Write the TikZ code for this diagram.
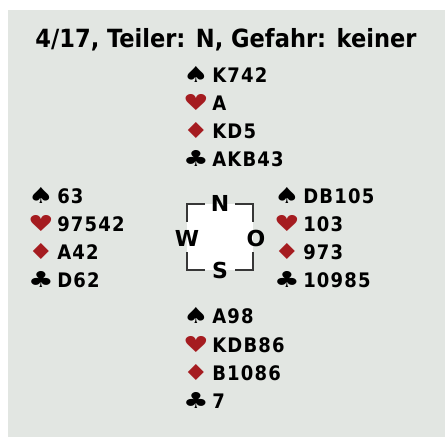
\documentclass[tikz,border=0pt]{standalone}
\usepackage{fontspec}
\usepackage{graphicx}
\setmainfont{DejaVu Sans}
\newfontfamily\titlefamily{DejaVu Sans Condensed Bold}
\newfontfamily\handfamily{DejaVu Sans Condensed Bold}[LetterSpace=6]
\newfontfamily\suitfamily{DejaVu Sans}
\newfontfamily\dirfamily{DejaVu Sans Bold}
\definecolor{bg}{RGB}{226,230,226}
\definecolor{suitred}{RGB}{165,28,32}
\definecolor{framegray}{RGB}{55,55,55}
\newcommand{\suitsym}[1]{\scalebox{1.3}[1.0]{#1}}
\tikzset{
  titletext/.style={font=\titlefamily\fontsize{18.8}{22}\selectfont, anchor=base, inner sep=0pt},
  handtext/.style={font=\handfamily\fontsize{15}{17}\selectfont, anchor=base west, inner sep=0pt},
  suitblack/.style={font=\suitfamily\fontsize{16.5}{18}\selectfont, anchor=base, inner sep=0pt, text=black},
  suitred/.style={font=\suitfamily\fontsize{16.5}{18}\selectfont, anchor=base, inner sep=0pt, text=suitred},
  dirtext/.style={font=\dirfamily\fontsize{16.5}{18}\selectfont, anchor=center, inner sep=0pt},
  bracket/.style={draw=framegray, line width=1.1pt}
}
\begin{document}
\begin{tikzpicture}[x=0.75pt,y=-0.75pt]
\useasboundingbox (0,0) rectangle (446,437);
\fill[white] (0,0) rectangle (446,437);
\fill[bg] (8,10) rectangle (445,437);
\node[titletext] (title) at (226,47) {4/17, Teiler: N, Gefahr: keiner};
% North
\node[suitblack] (ns) at (196,82) {\suitsym{♠}};
\node[handtext] (nst) at (212,82) {K742};
\node[suitred] (nh) at (196,110) {\suitsym{♥}};
\node[handtext] (nht) at (212,110) {A};
\node[suitred] (nd) at (196,138) {\suitsym{♦}};
\node[handtext] (ndt) at (212,138) {KD5};
\node[suitblack] (nc) at (196,166) {\suitsym{♣}};
\node[handtext] (nct) at (212,166) {AKB43};
% West
\node[suitblack] (ws) at (41,203) {\suitsym{♠}};
\node[handtext] (wst) at (57,203) {63};
\node[suitred] (wh) at (41,231) {\suitsym{♥}};
\node[handtext] (wht) at (57,231) {97542};
\node[suitred] (wd) at (41,259) {\suitsym{♦}};
\node[handtext] (wdt) at (57,259) {A42};
\node[suitblack] (wc) at (41,287) {\suitsym{♣}};
\node[handtext] (wct) at (57,287) {D62};
% East
\node[suitblack] (es) at (287,203) {\suitsym{♠}};
\node[handtext] (est) at (303,203) {DB105};
\node[suitred] (eh) at (287,231) {\suitsym{♥}};
\node[handtext] (eht) at (303,231) {103};
\node[suitred] (ed) at (287,259) {\suitsym{♦}};
\node[handtext] (edt) at (303,259) {973};
\node[suitblack] (ec) at (287,287) {\suitsym{♣}};
\node[handtext] (ect) at (303,287) {10985};
% South
\node[suitblack] (ss) at (196,323) {\suitsym{♠}};
\node[handtext] (sst) at (212,323) {A98};
\node[suitred] (sh) at (196,352) {\suitsym{♥}};
\node[handtext] (sht) at (212,352) {KDB86};
\node[suitred] (sd) at (196,380) {\suitsym{♦}};
\node[handtext] (sdt) at (212,380) {B1086};
\node[suitblack] (sc) at (196,408) {\suitsym{♣}};
\node[handtext] (sct) at (212,408) {7};
% compass
\fill[white] (187,204) rectangle (253,270);
\draw[bracket] (205,204) -- (187,204) -- (187,222);
\draw[bracket] (235,204) -- (253,204) -- (253,222);
\draw[bracket] (187,252) -- (187,270) -- (205,270);
\draw[bracket] (253,252) -- (253,270) -- (235,270);
\node[dirtext] (dn) at (220,203) {N};
\node[dirtext] (ds) at (220,270) {S};
\node[dirtext] (dw) at (187,238) {W};
\node[dirtext] (do) at (256,238) {O};
\end{tikzpicture}
\end{document}
